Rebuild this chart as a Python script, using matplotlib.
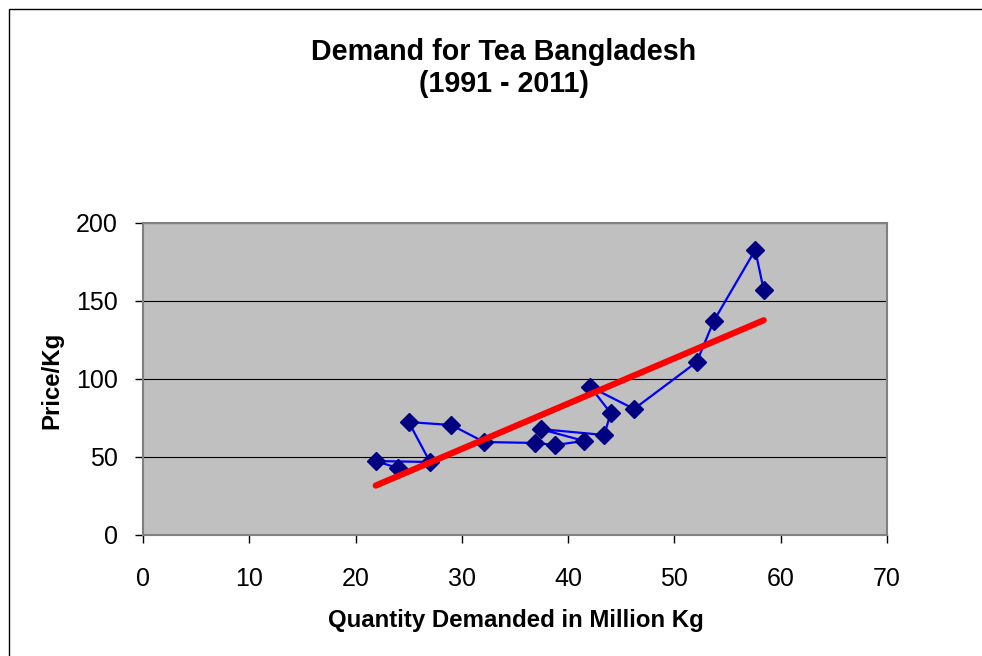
import numpy as np
import matplotlib
matplotlib.use("Agg")
import matplotlib.pyplot as plt
from matplotlib.patches import Rectangle

quantity = [24.0, 21.9, 27.0, 25.0, 29.0, 32.1, 36.9, 38.8, 41.5, 37.4,
            43.4, 44.0, 42.1, 46.2, 52.1, 53.7, 57.6, 58.4]
price = [42.9, 47.4, 46.8, 72.4, 70.5, 59.6, 59.0, 57.7, 60.3, 67.9,
         64.1, 78.2, 94.9, 80.8, 110.9, 137.2, 182.7, 157.1]
x_ticks = [0, 10, 20, 30, 40, 50, 60, 70]
y_ticks = [0, 50, 100, 150, 200]

plt.rcParams['font.family'] = ['Liberation Sans', 'DejaVu Sans']

W, H = 982, 656
fig = plt.figure(figsize=(W / 100, H / 100), dpi=100)
fig.patch.set_facecolor('white')

# outer chart border
fig.patches.append(Rectangle((9 / W, -0.1), 1.2, 1 - 9 / H + 0.1,
                             transform=fig.transFigure, fill=False,
                             edgecolor='black', linewidth=1.0))

l, r, t, b = 143, 887, 223, 535
ax = fig.add_axes([l / W, 1 - b / H, (r - l) / W, (b - t) / H])
ax.set_facecolor('#C0C0C0')
ax.set_xlim(0, 70)
ax.set_ylim(0, 200)
ax.set_xticks(x_ticks)
ax.set_yticks(y_ticks)
ax.tick_params(axis='both', direction='out', length=6, width=1, color='black',
               labelsize=18)
ax.tick_params(axis='x', pad=17)
ax.tick_params(axis='y', pad=12)
for s in ['top', 'right', 'left', 'bottom']:
    ax.spines[s].set_color('#808080')
    ax.spines[s].set_linewidth(1.5)
ax.yaxis.grid(True, color='black', linewidth=0.8)
ax.set_axisbelow(True)

ax.plot(quantity, price, color='#0000FF', linewidth=1.6,
        marker='D', markersize=9.5, markerfacecolor='#000080',
        markeredgecolor='#000080', zorder=3)

q = np.array(quantity)
p = np.array(price)
slope, intercept = np.polyfit(q, p, 1)
xs = np.array([q.min(), q.max()])
ax.plot(xs, slope * xs + intercept, color='#FF0000', linewidth=4.5,
        solid_capstyle='round', zorder=4)

fig.text(503.5 / W, 1 - 60 / H, 'Demand for Tea Bangladesh', ha='center',
         va='baseline', fontsize=20.6, fontweight='bold')
fig.text(503.5 / W, 1 - 92 / H, '(1991 - 2011)', ha='center', va='baseline',
         fontsize=20.6, fontweight='bold')
fig.text(515.5 / W, 1 - 627 / H, 'Quantity Demanded in Million Kg', ha='center',
         va='baseline', fontsize=17.3, fontweight='bold')
fig.text(52 / W, 1 - 380 / H, 'Price/Kg', ha='center', va='center',
         rotation=90, fontsize=17.3, fontweight='bold')

fig.savefig('out.png', dpi=100)
